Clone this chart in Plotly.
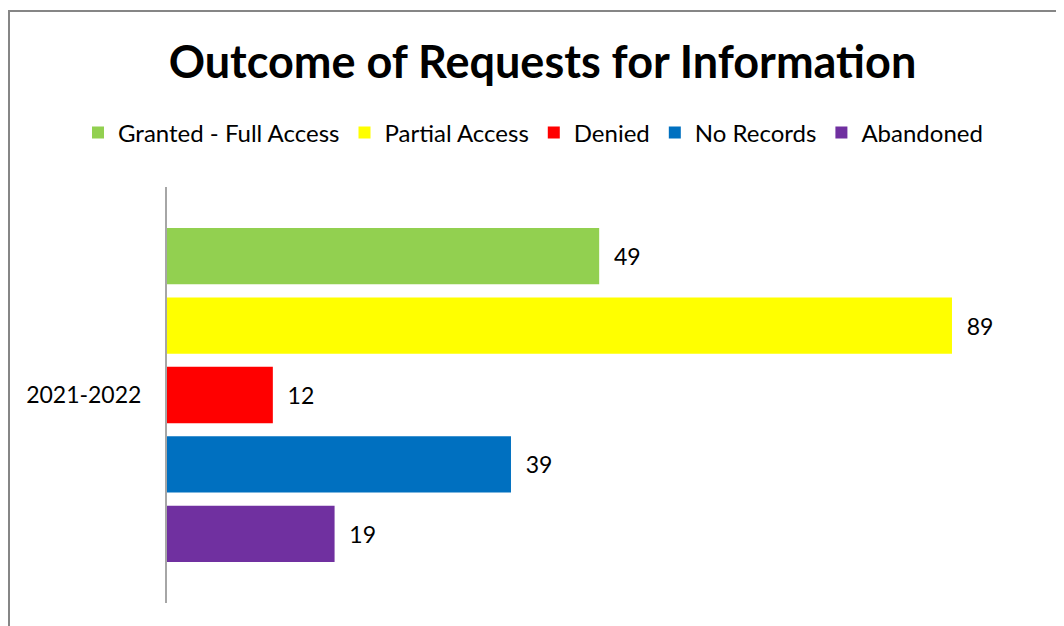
import plotly.graph_objects as go

category = ["2021-2022"]
series_names = ["Granted - Full Access", "Partial Access", "Denied", "No Records", "Abandoned"]
series_values = [49, 89, 12, 39, 19]
series_colors = ["#92D050", "#FFFF00", "#FF0000", "#0070C0", "#7030A0"]

FONT = "Lato"

# The page body has an 8px margin, so the figure is 8px smaller than the window.
W, H = 1056, 618
L, R, T, B = 159, 15, 179, 23
PW, PH = W - L - R, H - T - B

fig = go.Figure()
for name, val, col in zip(series_names, series_values, series_colors):
    fig.add_trace(go.Bar(
        y=category, x=[val], name=name, orientation="h",
        marker=dict(color=col, line=dict(width=0)),
        text=[val], texttemplate="  %{x}", textposition="outside",
        textfont=dict(family=FONT, size=23, color="#000000"),
        cliponaxis=False,
    ))

fig.update_layout(
    width=W, height=H,
    paper_bgcolor="white", plot_bgcolor="white",
    barmode="group", bargap=0.165, bargroupgap=0.19,
    margin=dict(l=L, r=R, t=T, b=B),
    font=dict(family=FONT, color="#000000"),
    title=dict(text="<b>Outcome of Requests for Information</b>",
               x=534.5 / W, xanchor="center", y=1 - 54 / H, yanchor="middle",
               font=dict(family=FONT, size=45, color="#000000")),
    legend=dict(orientation="h", x=(70 - L) / PW, xanchor="left",
                y=(H - B - 125) / PH, yanchor="middle",
                font=dict(family=FONT, size=24), traceorder="normal",
                itemwidth=30, bgcolor="rgba(0,0,0,0)"),
    xaxis=dict(range=[0, 100], visible=False, showgrid=False, zeroline=False),
    yaxis=dict(autorange="reversed", showline=True, linecolor="#A6A6A6", linewidth=2,
               ticks="", showgrid=False, tickfont=dict(family=FONT, size=23),
               ticklabelstandoff=19),
    showlegend=True,
)

fig.add_shape(type="rect", xref="paper", yref="paper",
              x0=(1 - L) / PW, x1=1.2, y0=-0.3, y1=(H - B - 3) / PH,
              line=dict(color="#868686", width=2), fillcolor="rgba(0,0,0,0)", layer="below")

fig.write_html("out.html")
